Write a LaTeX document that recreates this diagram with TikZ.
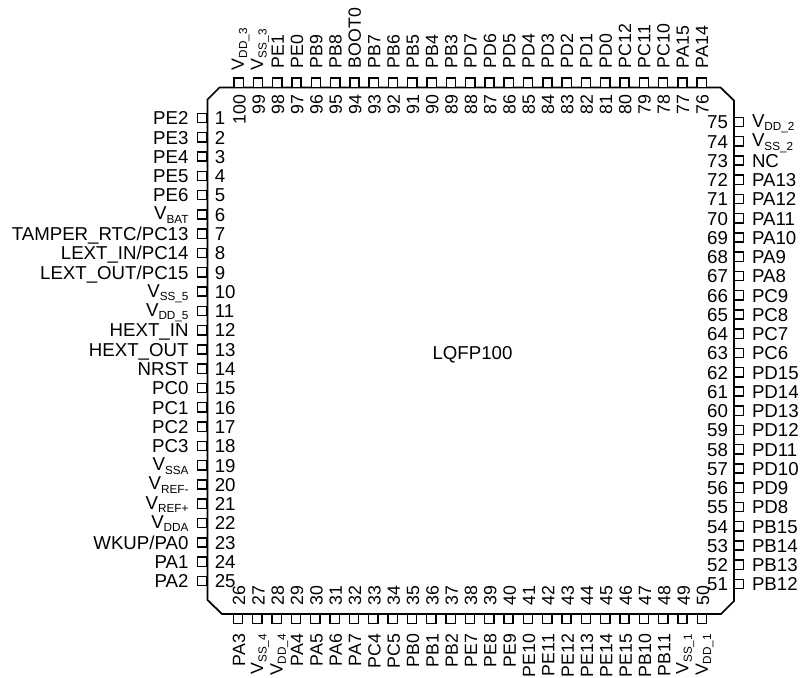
\documentclass[tikz,border=0pt]{standalone}
\usepackage{fontspec}
\setmainfont{Liberation Sans}
\newcommand{\Vs}[1]{\raisebox{1pt}{V\raisebox{-2.5pt}{\fontsize{8.8}{8.8}\selectfont #1}}}
\tikzset{x=0.75pt,y=-0.75pt,
 pinbox/.style={draw=black,line width=1.1pt,fill=white,minimum size=6.9pt,inner sep=0pt,outer sep=0pt,rectangle},
 txt/.style={inner sep=0pt,outer sep=0pt,font=\fontsize{14}{14}\selectfont,text=black},
 vtxt/.style={inner sep=0pt,outer sep=0pt,font=\fontsize{13.3}{13.3}\selectfont,text=black,rotate=90},
 chip/.style={draw=black,line width=1.3pt,line join=miter}}
\begin{document}
\begin{tikzpicture}
\useasboundingbox (0,0) rectangle (800,678);
\draw[chip] (207.5,99.5) -- (219.5,87.5) -- (720.5,87.5) -- (734,100.5) -- (734,601) -- (721,614) -- (222,614) -- (207.5,600) -- cycle;
\node[txt,anchor=base] (centre) at (472.5,359.3) {LQFP100};
% left side
\foreach \i/\t in {1/PE2,2/PE3,3/PE4,4/PE5,5/PE6,6/\Vs{BAT},7/{TAMPER\_RTC/PC13},8/{LEXT\_IN/PC14},9/{LEXT\_OUT/PC15},10/\Vs{SS\_5},11/\Vs{DD\_5},12/HEXT\_IN,13/HEXT\_OUT,14/NRST,15/PC0,16/PC1,17/PC2,18/PC3,19/\Vs{SSA},20/\Vs{REF-},21/\Vs{REF+},22/\Vs{DDA},23/{WKUP/PA0},24/PA1,25/PA2}{
 \pgfmathsetmacro{\yy}{118+(\i-1)*19.29}
 \node[pinbox] (p\i) at (202.3,\yy) {};
 \node[txt,anchor=base east] (l\i) at (188.5,\yy+6.8) {\t};
 \node[txt,anchor=base west] (n\i) at (214.8,\yy+6.8) {\i};
}
% bottom side
\foreach \i/\t in {26/PA3,27/\Vs{SS\_4},28/\Vs{DD\_4},29/PA4,30/PA5,31/PA6,32/PA7,33/PC4,34/PC5,35/PB0,36/PB1,37/PB2,38/PE7,39/PE8,40/PE9,41/PE10,42/PE11,43/PE12,44/PE13,45/PE14,46/PE15,47/PB10,48/PB11,49/\Vs{SS\_1},50/\Vs{DD\_1}}{
 \pgfmathsetmacro{\xx}{238+(\i-26)*19.33}
 \node[pinbox] (p\i) at (\xx,619) {};
 \node[vtxt,anchor=base east] (l\i) at (\xx+7.2,634) {\t};
 \node[vtxt,anchor=base west] (n\i) at (\xx+7.2,605) {\i};
}
% right side
\foreach \i/\t in {51/PB12,52/PB13,53/PB14,54/PB15,55/PD8,56/PD9,57/PD10,58/PD11,59/PD12,60/PD13,61/PD14,62/PD15,63/PC6,64/PC7,65/PC8,66/PC9,67/PA8,68/PA9,69/PA10,70/PA11,71/PA12,72/PA13,73/NC,74/\Vs{SS\_2},75/\Vs{DD\_2}}{
 \pgfmathsetmacro{\yy}{584-(\i-51)*19.25}
 \node[pinbox] (p\i) at (739,\yy) {};
 \node[txt,anchor=base west] (l\i) at (752,\yy+6.8) {\t};
 \node[txt,anchor=base east] (n\i) at (728,\yy+6.8) {\i};
}
% top side
\foreach \i/\t in {76/PA14,77/PA15,78/PC10,79/PC11,80/PC12,81/PD0,82/PD1,83/PD2,84/PD3,85/PD4,86/PD5,87/PD6,88/PD7,89/PB3,90/PB4,91/PB5,92/PB6,93/PB7,94/BOOT0,95/PB8,96/PB9,97/PE0,98/PE1,99/\Vs{SS\_3},100/\Vs{DD\_3}}{
 \pgfmathsetmacro{\xx}{701.7-(\i-76)*19.29}
 \pgfmathsetmacro{\st}{\i>98?70:68}
 \node[pinbox] (p\i) at (\xx,82.8) {};
 \node[vtxt,anchor=base west] (l\i) at (\xx+6.5,\st) {\t};
 \node[vtxt,anchor=base east] (n\i) at (\xx+6.8,95) {\i};
}
\end{tikzpicture}
\end{document}
